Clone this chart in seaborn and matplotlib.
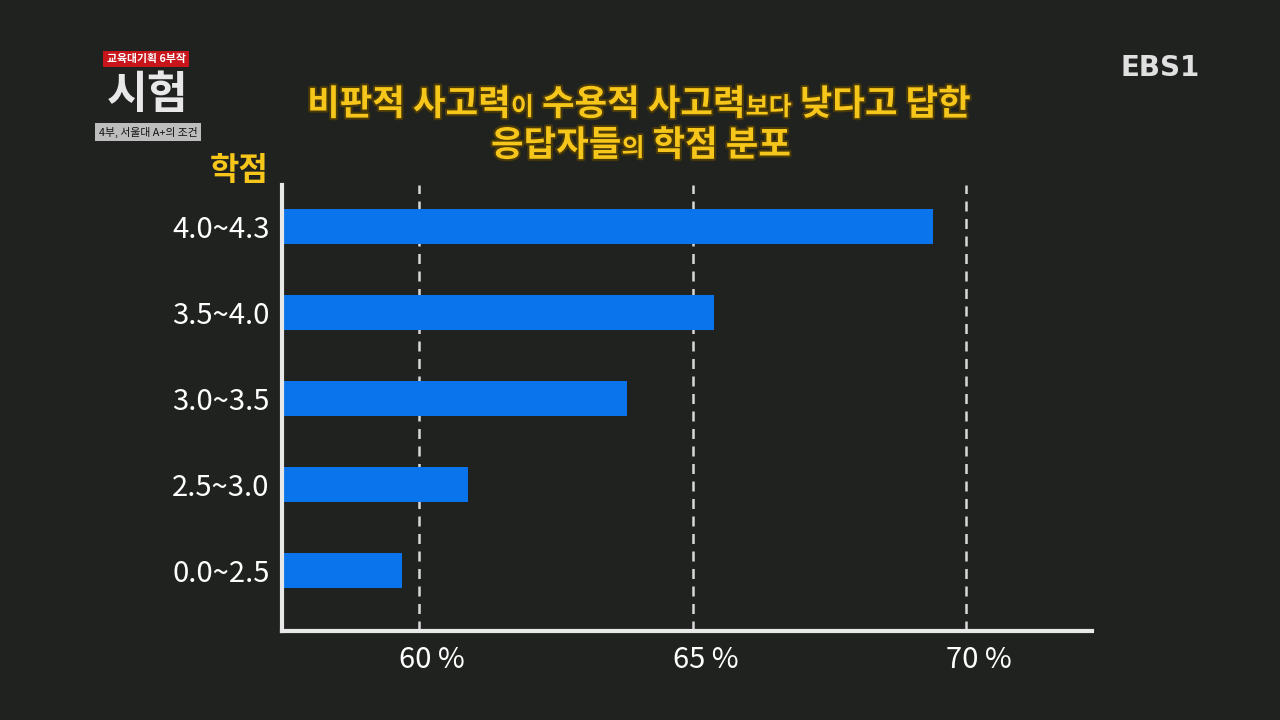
import seaborn as sns
import matplotlib.pyplot as plt
import matplotlib.patheffects as pe
import matplotlib.transforms as mtransforms
import pandas as pd

# 학점 구간별 비율 (%)
grades = ['4.0~4.3', '3.5~4.0', '3.0~3.5', '2.5~3.0', '0.0~2.5']
percents = [69.4, 65.4, 63.8, 60.9, 59.7]
xticks = [60, 65, 70]
xtick_labels = ['60 %', '65 %', '70 %']

df = pd.DataFrame({'학점': grades, '비율': percents})

sns.set_style('dark')
plt.rcParams['font.family'] = ['Noto Sans CJK KR', 'DejaVu Sans']

bg = '#202220'
yellow = '#f7c61a'
blue = '#0a74ec'

fig = plt.figure(figsize=(12.8, 7.2), dpi=100, facecolor=bg)
ax = fig.add_axes([0.2203, 0.1236, 0.633, 0.6194])
ax.set_facecolor(bg)

sns.barplot(data=df, x='비율', y='학점', orient='h', color=blue,
            saturation=1, width=0.41, linewidth=0, ax=ax)

ax.set_xlim(57.5, 72.3)
ax.set_ylim(4.7, -0.48)
for v in xticks:
    ax.axvline(v, color='#d8d8d8', lw=1.8, ls=(0, (4, 3)), zorder=0)

ax.set_xticks(xticks)
ax.set_xticklabels(xtick_labels)
ax.tick_params(axis='both', length=0, colors='white', labelsize=21)
ax.tick_params(axis='x', pad=10)
ax.tick_params(axis='y', pad=9)
# 숫자가 눈금선 가운데 오도록 조금 오른쪽으로
shift = mtransforms.ScaledTranslation(13 / 100, 0, fig.dpi_scale_trans)
for lab in ax.get_xticklabels():
    lab.set_transform(lab.get_transform() + shift)
ax.set_xlabel('')
ax.set_ylabel('')
ax.grid(False)
for s in ['top', 'right']:
    ax.spines[s].set_visible(False)
for s in ['left', 'bottom']:
    ax.spines[s].set_color('#e8e8e8')
    ax.spines[s].set_linewidth(3)

# 축 제목
fig.text(239 / 1280, 1 - 171 / 720, '학점', color=yellow, fontsize=23,
         fontweight='bold', ha='center', va='center')

# 제목 (글자 크기가 섞여 있음)
glow = [pe.withStroke(linewidth=3, foreground='#4a3a08')]


def mixed_line(parts, xc, y):
    renderer = fig.canvas.get_renderer()
    texts = []
    total = 0
    for s, size in parts:
        t = fig.text(0, y, s, color=yellow, fontsize=size, fontweight='bold',
                     ha='left', va='baseline', path_effects=glow)
        w = t.get_window_extent(renderer).width / fig.bbox.width
        texts.append((t, w))
        total += w
    x = xc - total / 2
    for t, w in texts:
        t.set_x(x)
        x += w


big, small = 25.5, 18
mixed_line([('비판적 사고력', big), ('이', small), (' 수용적 사고력', big),
            ('보다', small), (' 낮다고 답한', big)], 639 / 1280, 1 - 115 / 720)
mixed_line([('응답자들', big), ('의', small), (' 학점 분포', big)],
           641 / 1280, 1 - 156 / 720)

# 방송 로고
fig.text(1160 / 1280, 1 - 68 / 720, 'EBS1', color='#e0e0e0', fontsize=20,
         fontweight='heavy', ha='center', va='center', family=['DejaVu Sans'])
fig.text(146 / 1280, 1 - 59 / 720, '교육대기획 6부작', color='white', fontsize=7.8,
         fontweight='bold', ha='center', va='center',
         bbox=dict(boxstyle='square,pad=0.3', fc='#c8151b', ec='none'))
fig.text(148 / 1280, 1 - 95 / 720, '시험', color='#e8e8e8', fontsize=32,
         fontweight='bold', ha='center', va='center')
fig.text(148 / 1280, 1 - 132 / 720, '4부, 서울대 A+의 조건', color='#111111',
         fontsize=7.8, ha='center', va='center',
         bbox=dict(boxstyle='square,pad=0.3', fc='#bdbdbd', ec='none'))

fig.savefig('out.png', dpi=100, facecolor=bg)
